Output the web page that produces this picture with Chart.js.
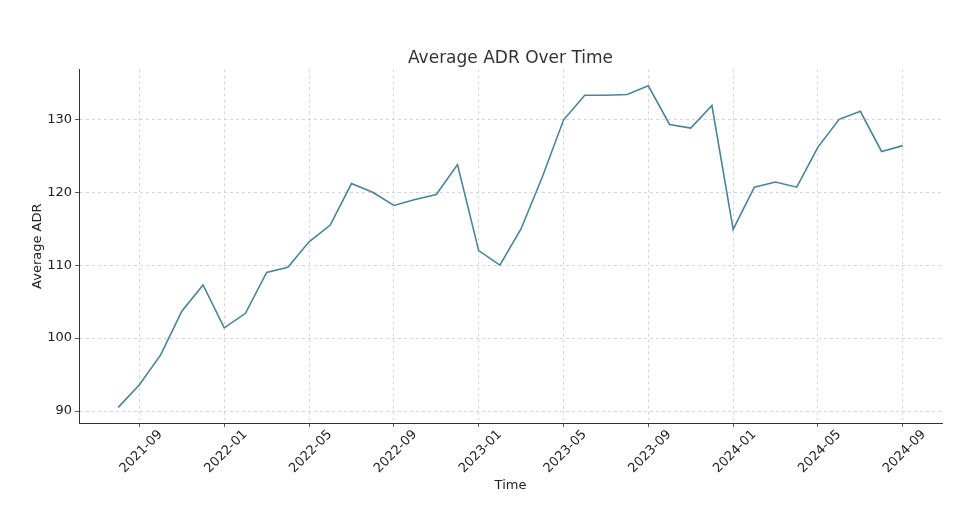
<!DOCTYPE html>
<html>
<head>
<meta charset="utf-8">
<script src="https://cdn.jsdelivr.net/npm/chart.js@4.4.1/dist/chart.umd.min.js"></script>
<style>
  html, body { margin: 0; padding: 0; background: #fff; }
  #wrap { width: 974px; height: 526px; }
</style>
</head>
<body>
<div id="wrap"><canvas id="chartLine" width="974" height="526"></canvas></div>
<script>
// monthly averages, 2021-08 .. 2024-09
const months = ["2021-08","2021-09","2021-10","2021-11","2021-12",
  "2022-01","2022-02","2022-03","2022-04","2022-05","2022-06","2022-07","2022-08","2022-09","2022-10","2022-11","2022-12",
  "2023-01","2023-02","2023-03","2023-04","2023-05","2023-06","2023-07","2023-08","2023-09","2023-10","2023-11","2023-12",
  "2024-01","2024-02","2024-03","2024-04","2024-05","2024-06","2024-07","2024-08","2024-09"];
const adr = [90.5, 93.6, 97.7, 103.7, 107.3,
  101.4, 103.4, 109.0, 109.7, 113.2, 115.5, 121.2, 120.0, 118.2, 119.0, 119.7, 123.8,
  112.0, 110.0, 115.0, 122.1, 129.9, 133.3, 133.3, 133.4, 134.6, 129.3, 128.8, 131.9,
  114.9, 120.7, 121.4, 120.7, 126.2, 130.0, 131.1, 125.6, 126.4];
const xTickLabels = ["2021-09","2022-01","2022-05","2022-09","2023-01","2023-05","2023-09","2024-01","2024-05","2024-09"];
const yTicks = [90, 100, 110, 120, 130];

const points = adr.map((v, i) => ({ x: i, y: v }));
const font = { family: "DejaVu Sans", size: 13 };
const grid = {
    color: "#cccccc",
    tickColor: "#333",
    tickBorderDash: [],
    tickLength: 4,
    lineWidth: 0.8,
};
// in v4 border.dash is what dashes the grid lines
const border = { display: true, color: "#333", width: 1, dash: [3, 3] };

new Chart(document.getElementById("chartLine"), {
    type: "line",
    data: {
        datasets: [{
            label: "Average ADR",
            data: points,
            borderColor: "#4a8499",
            backgroundColor: "#4a8499",
            borderWidth: 1.6,
            pointRadius: 0,
            tension: 0,
        }]
    },
    options: {
        responsive: false,
        animation: false,
        layout: { padding: { left: 0, right: 32, top: 0, bottom: 26 } },
        plugins: {
            legend: { display: false },
            tooltip: { enabled: false },
            title: {
                display: true,
                fullSize: false,
                text: "Average ADR Over Time",
                color: "#333",
                font: { family: "DejaVu Sans", size: 17, weight: "normal" },
                padding: { top: 48, bottom: 1 },
            },
        },
        scales: {
            x: {
                type: "linear",
                min: -1.85,
                max: 38.85,
                afterBuildTicks: s => { s.ticks = xTickLabels.map(l => ({ value: months.indexOf(l) })); },
                afterFit: s => { s.height = 77; },
                ticks: {
                    color: "#222",
                    font: font,
                    minRotation: 45,
                    maxRotation: 45,
                    padding: 0,
                    labelOffset: 21,
                    callback: v => months[v],
                },
                grid: grid,
                border: border,
                title: { display: true, text: "Time", color: "#222", font: font, padding: { top: 4, bottom: 7 } },
            },
            y: {
                min: 88.36,
                max: 136.85,
                afterBuildTicks: s => { s.ticks = yTicks.map(v => ({ value: v })); },
                afterFit: s => { s.width = 79; },
                ticks: { color: "#222", font: font, padding: 3 },
                grid: grid,
                border: border,
                title: { display: true, text: "Average ADR", color: "#222", font: font, padding: { top: 30, bottom: 0 } },
            },
        },
    },
});
</script>
</body>
</html>
